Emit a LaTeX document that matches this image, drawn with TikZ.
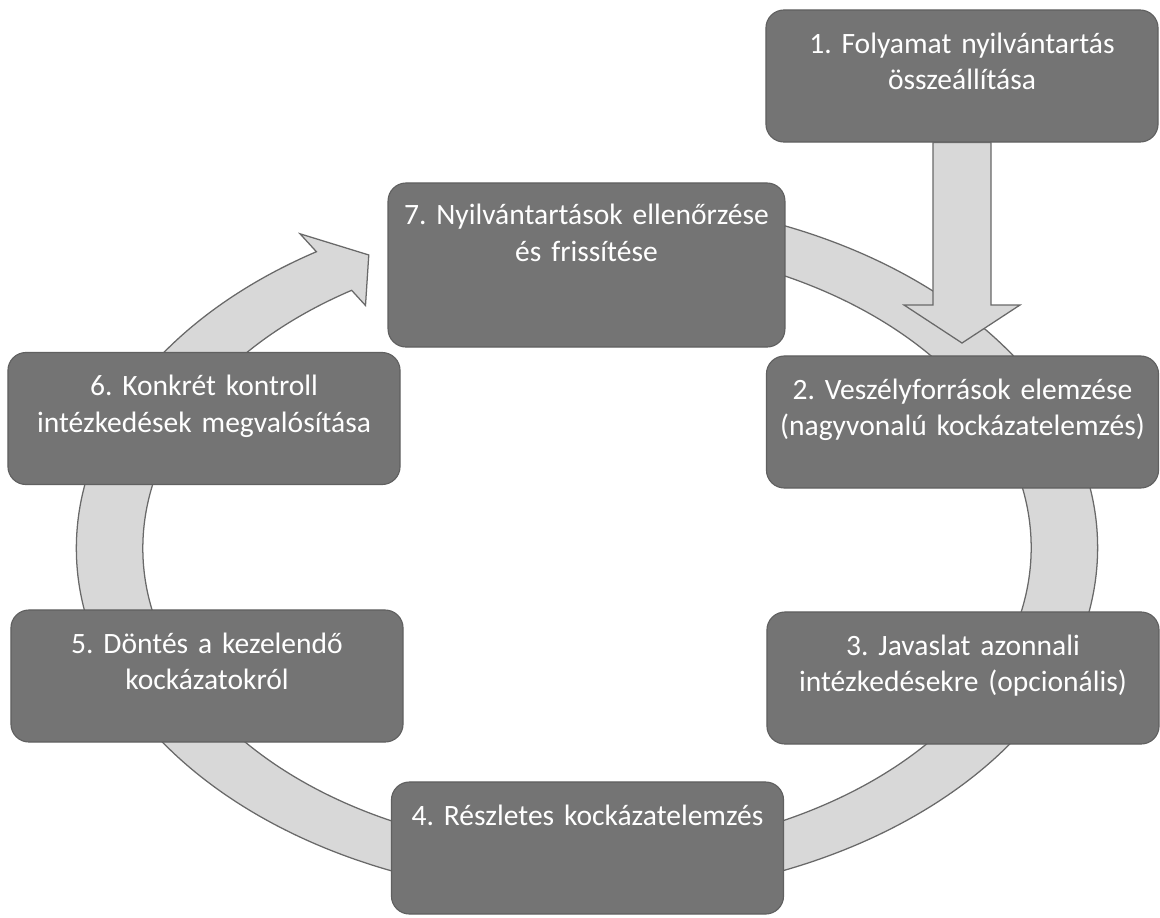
\documentclass[tikz,border=0pt]{standalone}
\usepackage{fontspec}
\setmainfont{Carlito}
\usetikzlibrary{calc}
\frenchspacing

\definecolor{boxgray}{RGB}{116,116,116}
\definecolor{boxedge}{RGB}{96,96,96}
\definecolor{ringgray}{RGB}{216,216,216}
\definecolor{ringedge}{RGB}{105,105,105}

\tikzset{
  stepbox/.style={rectangle, rounded corners=0.45cm, fill=boxgray, draw=boxedge,
    line width=0.8pt, text=white, inner sep=0pt, minimum width=9.8cm,
    text width=9.8cm, align=center, font=\fontsize{21}{26}\selectfont,
    text height=1.075cm, text depth=2.225cm},
  ringshape/.style={fill=ringgray, draw=ringedge, line width=0.9pt, line join=miter},
}

\begin{document}
\begin{tikzpicture}[x=0.025cm, y=-0.025cm]
        \useasboundingbox (0,0) rectangle (1160,917);

        % Drawing the cycle ring (behind the boxes)
        \begin{scope}[shift={(587,548)}, xscale=475, yscale=325]
          \filldraw[ringshape] (-85:1.075) arc (-85:238:1.075) -- (238:1.14) -- (243:1.012)
            -- (238:0.88) -- (238:0.935) arc (238:-85:0.935) -- cycle;
        \end{scope}

        % Steps
        \node[stepbox] (b1) at (962,76) {1. Folyamat nyilvántartás\\összeállítása};
        \node[stepbox, minimum width=9.92cm, text width=9.92cm, text height=1.05cm, text depth=3.05cm]
          (b7) at (586.5,265) {7. Nyilvántartások ellenőrzése\\és frissítése};
        \node[stepbox] (b2) at (962.5,422) {2. Veszélyforrások elemzése\\(nagyvonalú kockázatelemzés)};
        \node[stepbox] (b6) at (204,418.5) {6. Konkrét kontroll\\intézkedések megvalósítása};
        \node[stepbox] (b3) at (963,678) {3. Javaslat azonnali\\intézkedésekre (opcionális)};
        \node[stepbox] (b5) at (207,676) {5. Döntés a kezelendő\\kockázatokról};
        \node[stepbox] (b4) at (587.5,848) {4. Részletes kockázatelemzés};

        % Entry arrow from step 1
        \coordinate (tip) at (962,343);
        \filldraw[ringshape] ($(b1.south)+(-29,0)$) -- ($(tip)+(-29,-38)$) -- ($(tip)+(-58,-38)$) -- (tip)
          -- ($(tip)+(58,-38)$) -- ($(tip)+(29,-38)$) -- ($(b1.south)+(29,0)$) -- cycle;

    \end{tikzpicture}
\end{document}
